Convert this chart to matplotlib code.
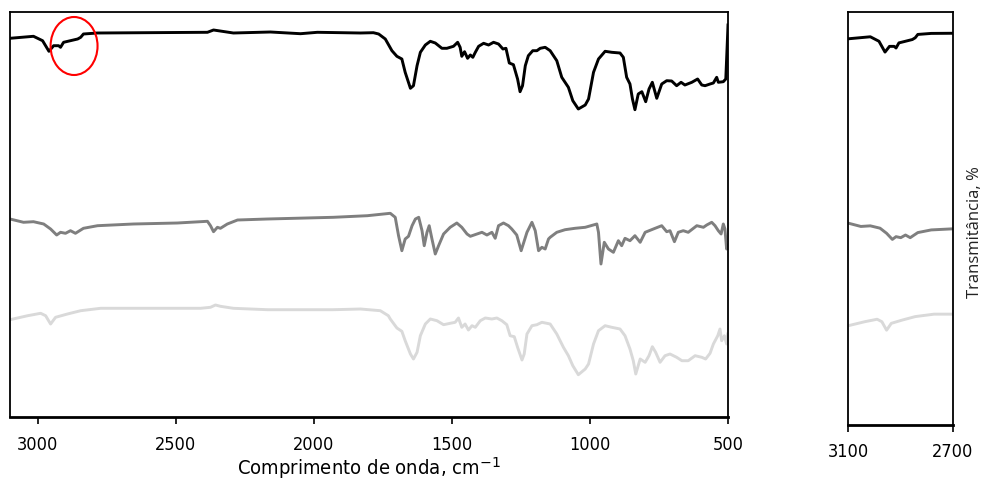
import matplotlib
matplotlib.use("Agg")
import matplotlib.pyplot as plt
from matplotlib import font_manager
from matplotlib.patches import Ellipse

# FTIR spectra, wavenumber (cm-1) vs transmittance (offset, arbitrary units)
wn_black = [3100, 3015, 2982, 2959, 2942, 2924, 2917, 2906, 2855, 2844, 2834, 2783,
            2385, 2363, 2291, 2157, 2048, 1987, 1831, 1784, 1765, 1741, 1717, 1699,
            1681, 1669, 1650, 1639, 1626, 1614, 1596, 1578, 1560, 1536, 1518, 1506,
            1494, 1479, 1470, 1464, 1454, 1443, 1433, 1424, 1415, 1403, 1385, 1367,
            1349, 1331, 1315, 1304, 1292, 1277, 1262, 1253, 1244, 1234, 1223, 1207,
            1192, 1180, 1162, 1144, 1120, 1102, 1078, 1062, 1042, 1017, 1005, 987,
            969, 945, 921, 891, 879, 867, 855, 846, 837, 825, 812, 798, 786, 774,
            758, 740, 722, 704, 686, 670, 656, 631, 610, 595, 583, 565, 553, 541,
            535, 517, 508, 501, 500]
t_black = [378.7, 380.7, 376.3, 365.7, 371.3, 371.3, 369.7, 374.7, 378, 379.7, 383, 384,
           384.7, 387, 384, 385, 383.3, 384.7, 384, 384.3, 383, 378, 366.3, 360.7,
           358, 344.7, 328.7, 331.3, 351.3, 364.7, 372, 375.7, 374, 368.7, 368.7, 369.7,
           370.7, 374.7, 369.7, 360.7, 365.3, 358.7, 362, 359.7, 364.7, 370.7, 373.7, 372,
           374.7, 373, 368, 368.7, 354, 352.3, 338, 325.3, 331.3, 351.3, 361.3, 366.3,
           366.3, 368.7, 369.7, 366.3, 356.3, 339.7, 329.7, 316.3, 308, 312, 318, 344.7,
           358, 365.7, 364.7, 364, 359.7, 339.7, 333, 318, 307.3, 323, 325.3, 315.3, 328, 334.7,
           318.7, 333, 336.3, 336, 331.3, 334.7, 332, 334.7, 338, 332, 331.3, 333, 334, 339.7,
           334.7, 335.3, 338, 384.7, 392]

wn_gray = [3100, 3051, 3015, 2978, 2953, 2931, 2917, 2899, 2881, 2863, 2834, 2783,
           2653, 2494, 2385, 2374, 2363, 2349, 2338, 2313, 2276, 2168, 1929, 1806,
           1723, 1705, 1693, 1681, 1669, 1657, 1644, 1632, 1620, 1608, 1600, 1590,
           1582, 1572, 1560, 1548, 1530, 1506, 1482, 1464, 1445, 1433, 1409, 1391,
           1373, 1355, 1343, 1331, 1313, 1295, 1283, 1265, 1249, 1228, 1210, 1198,
           1186, 1174, 1162, 1150, 1144, 1120, 1090, 1054, 1017, 975, 969, 960, 948,
           933, 915, 897, 885, 873, 855, 837, 818, 800, 764, 740, 722, 710, 694, 680,
           662, 644, 613, 589, 577, 559, 547, 535, 525, 517, 511, 505, 501]
t_gray = [198, 194.7, 195.3, 193, 188, 182, 184.7, 183.7, 186.3, 183.7, 188.7, 191.3,
          193, 194, 195.7, 191.3, 185.3, 189.7, 188.7, 193, 197, 198, 199.7, 201.3,
          203.7, 199.7, 181.3, 166.3, 178, 180.7, 191.3, 198, 199.7, 186.3, 171.3, 184.7,
          191.3, 178, 163, 171.3, 183, 189.7, 194, 189.7, 183, 180.7, 183, 184.7,
          182, 184.7, 178.7, 191.3, 194, 191.3, 188, 182, 166.3, 184.7, 194.7, 186.3,
          166.3, 169.7, 168, 178, 179.7, 184.7, 187.3, 188.7, 189.7, 193, 184.7, 153, 174.7,
          168, 164.7, 176.3, 171.3, 178.7, 176.3, 181.3, 174.7, 184.7, 188.7, 191.3, 185.3, 186.3, 175.3, 184.7,
          186.3, 184.7, 191.3, 189.7, 192, 194.7, 191.3, 186.3, 183, 193, 188, 168, 171.3]

wn_light = [3100, 3036, 2989, 2971, 2953, 2935, 2892, 2844, 2772, 2410, 2374, 2356,
            2338, 2291, 2168, 1929, 1831, 1759, 1730, 1723, 1699, 1681, 1669, 1650,
            1639, 1626, 1614, 1596, 1578, 1554, 1530, 1506, 1488, 1476, 1464, 1452,
            1440, 1427, 1415, 1397, 1379, 1355, 1337, 1319, 1301, 1289, 1274, 1262,
            1246, 1238, 1228, 1210, 1192, 1174, 1156, 1144, 1120, 1096, 1078, 1062,
            1042, 1017, 1005, 987, 969, 945, 921, 891, 873, 855, 843, 834, 818, 800,
            786, 774, 762, 746, 728, 710, 686, 667, 644, 619, 595, 581, 565, 553, 537,
            529, 523, 513, 505, 501]
t_light = [97.3, 101.3, 103.7, 101.3, 93, 99.7, 103, 106.3, 108.7, 108.7, 109.7, 112,
           110.7, 108.7, 107.3, 107.3, 108, 106.3, 101.3, 98, 89, 85.7, 76.3, 63,
           58, 64.7, 81.3, 93, 98, 96.3, 92.3, 93.7, 94.7, 99, 89.7, 93,
           87, 91.3, 89.7, 96.3, 99, 98, 99, 96.3, 92.3, 81.3, 80.3, 69.7,
           57, 63, 83, 91.3, 92.3, 94.7, 93.7, 93, 83, 69.7, 61.3, 51.3,
           42.3, 48, 53, 73, 86.3, 91.3, 89.7, 88, 81.3, 68, 56.3, 43, 58, 54.7,
           61.3, 70.3, 64.7, 54.7, 61.3, 63, 59.7, 56.3, 56.3, 61.3, 59.7, 58, 63.7, 73, 81.3,
           88, 76.3, 81.3, 73, 83]

x_ticks_full = [3000, 2500, 2000, 1500, 1000, 500]
x_ticks_zoom = [3100, 2700]

series = [(wn_black, t_black, "black"),
          (wn_gray, t_gray, "#7f7f7f"),
          (wn_light, t_light, "#d9d9d9")]

# narrow face for the axis numbers
narrow = font_manager.FontProperties(family="DejaVu Sans", stretch="condensed",
                                     size=13)
label_font = narrow.copy()
label_font.set_size(14.5)

fig = plt.figure(figsize=(9.87, 4.85), dpi=100)
ax = fig.add_axes([10 / 987, 1 - 418 / 485, 718 / 987, 405 / 485])
ax2 = fig.add_axes([848 / 987, 1 - 426 / 485, 105 / 987, 413 / 485])

for a in (ax, ax2):
    for wn, t, c in series[::-1]:
        a.plot(wn, t, color=c, lw=2.1, solid_joinstyle="round")
    a.set_ylim(0, 405)
    a.set_yticks([])
    for s in a.spines.values():
        s.set_linewidth(1.3)
        s.set_color("black")
    a.spines["bottom"].set_linewidth(2.0)
    a.tick_params(axis="x", direction="out", length=5, width=1.2, pad=8)

ax.set_xlim(3100, 500)
ax.set_xticks(x_ticks_full)
ax.set_xticklabels([str(v) for v in x_ticks_full], fontproperties=narrow)
ax.set_xlabel("Comprimento de onda, cm$^{-1}$", fontproperties=label_font,
              labelpad=1)

ax2.set_xlim(3100, 2700)
ax2.set_xticks(x_ticks_zoom)
ax2.set_xticklabels([str(v) for v in x_ticks_zoom], fontproperties=narrow)
ax2.tick_params(axis="x", pad=7)
ax2.yaxis.set_label_position("right")
ax2.set_ylabel("Transmitância, %", family=["Open Sans", "DejaVu Sans"],
               fontsize=12, color="#222222")
ax2.yaxis.set_label_coords(1.13, 0.47)

# highlight the weak C-H stretching shoulder
ax.add_patch(Ellipse((2868, 371), width=170, height=58, fill=False,
                     edgecolor="red", lw=1.5, zorder=5))

fig.savefig("out.png", dpi=100)
